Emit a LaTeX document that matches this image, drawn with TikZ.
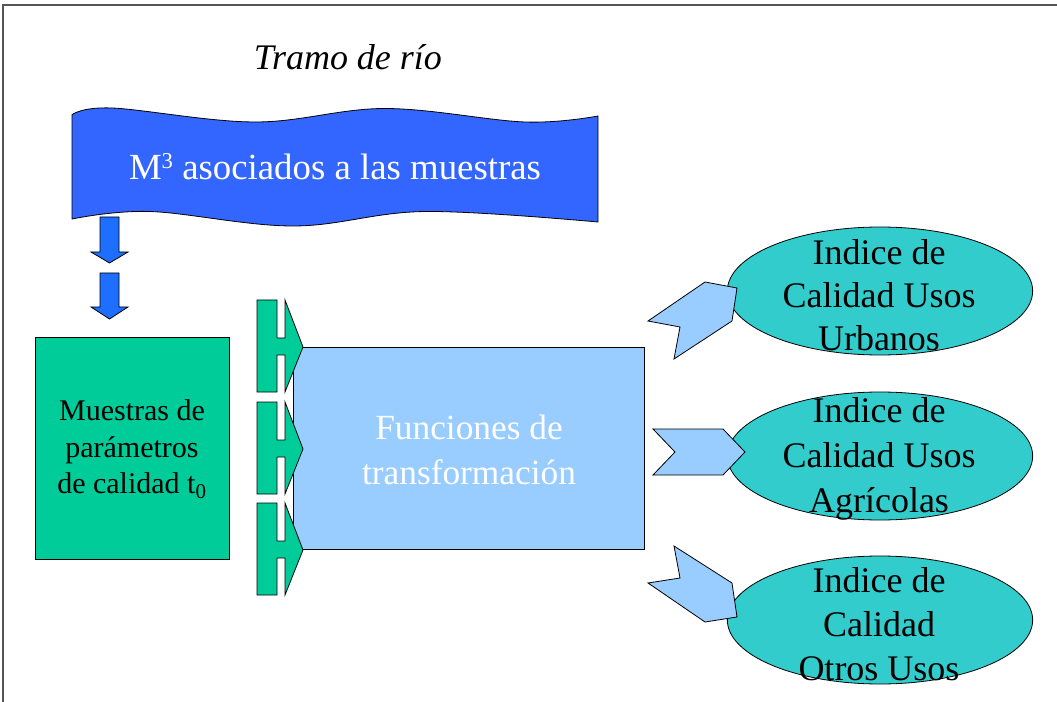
\documentclass[tikz,border=0pt]{standalone}
\usepackage{fontspec}
\setmainfont{Liberation Serif}
\usetikzlibrary{shapes.geometric}
\definecolor{bannerblue}{HTML}{3366FF}
\definecolor{arrowblue}{HTML}{1E6EFF}
\definecolor{mgreen}{HTML}{00CC99}
\definecolor{lblue}{HTML}{99CCFF}
\definecolor{teal2}{HTML}{33CCCC}
\definecolor{framegray}{HTML}{555555}
\begin{document}
\begin{tikzpicture}[x=0.75pt,y=-0.75pt,
  outl/.style={draw=black,line width=0.6pt,line join=miter},
  bigtext/.style={font=\fontsize{27}{32}\selectfont,align=center,inner sep=0pt},
  notchshape/.pic={
    \path[outl,fill=mgreen] (0,0) -- (20,0) -- (20,38) -- (28,38) -- (28,0) -- (46,47)
      -- (28,92) -- (28,55) -- (20,55) -- (20,92) -- (0,92) -- cycle;
  }]
\useasboundingbox (0,0) rectangle (1057,702);
% frame
\draw[framegray,line width=0.8pt] (3,702) -- (3,5) -- (1057,5);
% title
\node[bigtext,font=\itshape\fontsize{27}{32}\selectfont] (title) at (348,57) {Tramo de río};
% banner
\path[outl,fill=bannerblue]
  plot[smooth,tension=0.6] coordinates {(72,114.7) (112,108) (255,122) (385,108.5) (525,122) (598,116)}
  -- plot[smooth,tension=0.6] coordinates {(598,222) (425,211.5) (293,226) (150,211.5) (72,219)} -- cycle;
\node[bigtext,font=\fontsize{27.6}{32}\selectfont,text=white] (banner) at (335,167)
  {M\raisebox{0.3em}{\fontsize{17}{17}\selectfont 3} asociados a las muestras};
% down arrows
\path[outl,fill=arrowblue] (100,217) -- (119,217) -- (119,252) -- (128,252) -- (109.5,263)
  -- (91,252) -- (100,252) -- cycle;
\path[outl,fill=arrowblue] (100,273) -- (119,273) -- (119,307) -- (128,307) -- (109.5,319)
  -- (91,307) -- (100,307) -- cycle;
% green box
\node[outl,fill=mgreen,minimum width=145.5pt,minimum height=166.5pt,inner sep=0pt] (samples) at (132,448) {};
\node[align=center,inner sep=0pt,font=\fontsize{22.5}{27.5}\selectfont] (samplestext) at (132,449)
  {Muestras de\\parámetros\\de calidad t\textsubscript{0}};
% blue rect
\node[outl,fill=lblue,minimum width=263.25pt,minimum height=151.5pt,inner sep=0pt] (func) at (468.5,448) {};
\node[align=center,inner sep=0pt,text=white,font=\fontsize{26.5}{34}\selectfont] (functext) at (469,450)
  {Funciones de\\transformación};
% green notched arrows
\pic at (257,300) {notchshape};
\pic at (257,402) {notchshape};
\pic at (257,503) {notchshape};
% ellipses
\node[outl,fill=teal2,ellipse,minimum width=229pt,minimum height=96pt,inner sep=0pt] (e1) at (880,291) {};
\node[outl,fill=teal2,ellipse,minimum width=229pt,minimum height=96pt,inner sep=0pt] (e2) at (880,456) {};
\node[outl,fill=teal2,ellipse,minimum width=229pt,minimum height=96pt,inner sep=0pt] (e3) at (880,620) {};
% chevrons
\path[outl,fill=lblue] (648,321) -- (705,282) -- (737,288) -- (732,321) -- (674,359) -- (680,327) -- cycle;
\path[outl,fill=lblue] (653,429) -- (723,429) -- (745,452) -- (723,475) -- (653,475) -- (675,452) -- cycle;
\path[outl,fill=lblue] (674,546) -- (680,578) -- (648,583) -- (705,622) -- (737,617) -- (732,583) -- cycle;
% ellipse texts
\node[bigtext,font=\fontsize{27}{32.2}\selectfont] (t1) at (879,295) {Indice de\\Calidad Usos\\Urbanos};
\node[bigtext,font=\fontsize{27}{33.5}\selectfont] (t2) at (879,459) {Indice de\\Calidad Usos\\Agrícolas};
\node[bigtext,font=\fontsize{27}{33}\selectfont] (t3) at (879,624) {Indice de\\Calidad\\Otros Usos};
\end{tikzpicture}
\end{document}
